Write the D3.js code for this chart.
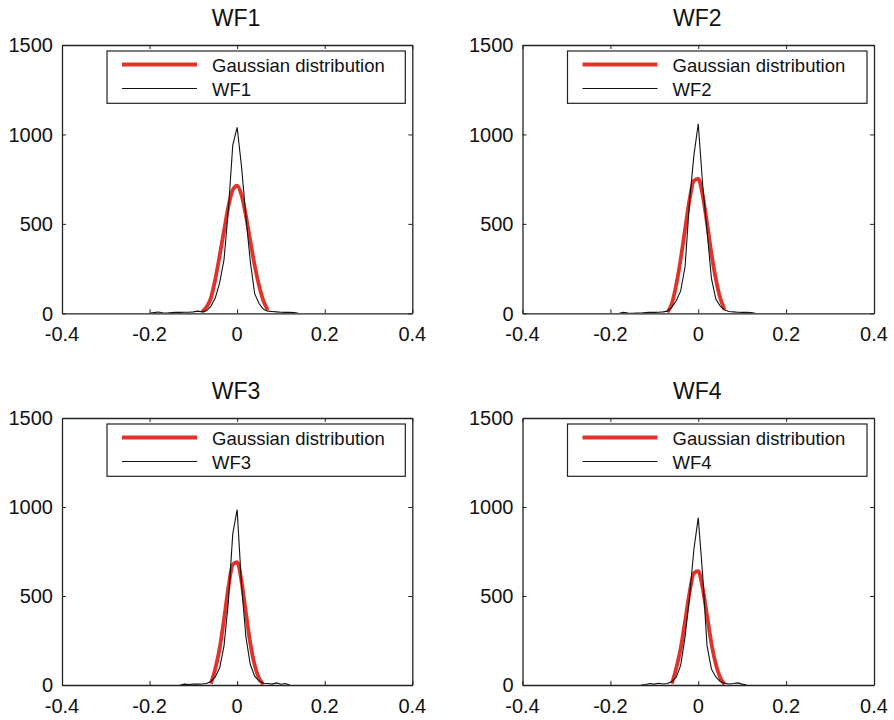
<!DOCTYPE html>
<html><head><meta charset="utf-8">
<script src="https://cdn.jsdelivr.net/npm/d3@7"></script>
<style>body{margin:0;background:#fff}svg{display:block}text{font-family:"Liberation Sans",Arial,Helvetica,sans-serif;fill:#111}</style>
</head><body>
<script>
const panelTitles = ["WF1","WF2","WF3","WF4"];
const xTicks = [-0.4,-0.2,0,0.2,0.4];
const yTicks = [0,500,1000,1500];
const xTickLabels = ["-0.4","-0.2","0","0.2","0.4"];
const legendLabels = ["Gaussian distribution"];

// histogram bin centres (shared)
const binX = [-0.20,-0.19,-0.18,-0.17,-0.16,-0.15,-0.14,-0.13,-0.12,-0.11,-0.10,-0.09,-0.08,-0.07,-0.06,-0.05,-0.04,-0.03,-0.02,-0.01,0,0.01,0.02,0.03,0.04,0.05,0.06,0.07,0.08,0.09,0.10,0.11,0.12,0.13,0.14,0.15];
const wf1Counts = [0,4,7,3,2,4,5,5,6,6,8,12,8,14,40,85,170,300,580,940,1040,820,540,290,110,55,22,12,10,8,6,5,5,4,0,null];
const wf2Counts = [null,null,0,5,2,0,1,2,4,5,5,6,8,12,35,70,125,260,620,880,1060,720,460,195,80,40,18,10,8,6,5,5,4,0,null,null];
const wf3Counts = [null,null,null,null,null,null,null,0,5,3,5,5,6,8,20,45,95,220,470,850,985,560,270,115,50,22,10,8,5,12,4,8,0,null,null,null];
const wf4Counts = [null,null,null,null,null,null,null,0,3,8,5,10,6,8,20,45,110,270,490,760,940,620,220,90,45,20,10,6,8,12,5,0,null,null,null,null];

// fitted Gaussian curves (shared x)
const gaussX = [-0.08,-0.07,-0.06,-0.05,-0.04,-0.03,-0.02,-0.01,0,0.01,0.02,0.03,0.04,0.05,0.06,0.07,0.08];
const wf1Gauss = [8,35,85,190,321,462,597,690,713,660,546,405,268,155,70,18,null];
const wf2Gauss = [null,6,55,160,302,470,633,741,751,661,504,334,192,85,20,null,null];
const wf3Gauss = [null,null,8,90,206,369,549,677,690,582,406,235,112,38,4,null,null];
const wf4Gauss = [null,null,8,95,206,357,517,628,639,545,390,233,117,42,4,null,null];

const countsList = [wf1Counts,wf2Counts,wf3Counts,wf4Counts];
const gaussList = [wf1Gauss,wf2Gauss,wf3Gauss,wf4Gauss];

const W = 894, H = 720;
const svg = d3.select("body").append("svg").attr("width",W).attr("height",H);

const cols = [[62,412.3],[522.5,874]];
const rows = [[45,313.3],[418,685]];
const red = "#e2332a";

panelTitles.forEach((title,i)=>{
  const [x0,x1] = cols[i%2];
  const [y0,y1] = rows[Math.floor(i/2)];
  const x = d3.scaleLinear().domain([-0.4,0.4]).range([x0,x1]);
  const y = d3.scaleLinear().domain([0,1500]).range([y1,y0]);
  const g = svg.append("g");
  const clipId = "clip"+i;
  svg.append("clipPath").attr("id",clipId).append("rect")
    .attr("x",x0).attr("y",y0-4).attr("width",x1-x0).attr("height",y1-y0+4);

  // curves
  const plot = g.append("g").attr("clip-path",`url(#${clipId})`);
  const gaussLine = d3.line().defined(d=>d[1]!=null)
    .x(d=>x(d[0])).y(d=>y(d[1])).curve(d3.curveMonotoneX);
  plot.append("path").datum(gaussX.map((v,k)=>[v,gaussList[i][k]]))
    .attr("d",gaussLine).attr("fill","none").attr("stroke",red)
    .attr("stroke-width",3.8).attr("stroke-linejoin","round").attr("stroke-linecap","butt");
  const histLine = d3.line().defined(d=>d[1]!=null)
    .x(d=>x(d[0])).y(d=>y(d[1]));
  plot.append("path").datum(binX.map((v,k)=>[v,countsList[i][k]]))
    .attr("d",histLine).attr("fill","none").attr("stroke","#111").attr("stroke-width",1.1);

  // axes (inward ticks, on all sides)
  const axB = d3.axisBottom(x).tickValues(xTicks).tickSizeInner(-4).tickSizeOuter(0).tickFormat(()=>"");
  const axT = d3.axisTop(x).tickValues(xTicks).tickSizeInner(-4).tickSizeOuter(0).tickFormat(()=>"");
  const axL = d3.axisLeft(y).tickValues(yTicks).tickSizeInner(-4).tickSizeOuter(0).tickFormat(()=>"");
  const axR = d3.axisRight(y).tickValues(yTicks).tickSizeInner(-4).tickSizeOuter(0).tickFormat(()=>"");
  [[axB,`translate(0,${y1})`],[axT,`translate(0,${y0})`],[axL,`translate(${x0},0)`],[axR,`translate(${x1},0)`]].forEach(([ax,t])=>{
    const a = g.append("g").attr("transform",t).call(ax);
    a.selectAll("path.domain").attr("stroke","#222").attr("stroke-width",1.3);
    a.selectAll(".tick line").attr("stroke","#222").attr("stroke-width",1);
  });

  // tick labels
  g.selectAll(".xl").data(xTicks).enter().append("text")
    .attr("x",d=>x(d)).attr("y",y1+27.5).attr("text-anchor","middle")
    .attr("font-size",20).text((d,k)=>xTickLabels[k]);
  g.selectAll(".yl").data(yTicks).enter().append("text")
    .attr("x",x0-9).attr("y",d=>y(d)).attr("dy","0.36em").attr("text-anchor","end")
    .attr("font-size",20).text(d=>d);

  // title
  g.append("text").attr("x",(x0+x1)/2 - 1).attr("y",y0-19).attr("text-anchor","middle")
    .attr("font-size",23).text(title);

  // legend
  const lx = x0+45, ly = y0+6, lw = (x1-7)-(x0+45), lh = 52.3;
  const lg = g.append("g");
  lg.append("rect").attr("x",lx).attr("y",ly).attr("width",lw).attr("height",lh)
    .attr("fill","#fff").attr("stroke","#222").attr("stroke-width",1.2);
  lg.append("line").attr("x1",lx+15).attr("x2",lx+90).attr("y1",ly+13.5).attr("y2",ly+13.5)
    .attr("stroke",red).attr("stroke-width",3.8);
  lg.append("line").attr("x1",lx+15).attr("x2",lx+90).attr("y1",ly+37.5).attr("y2",ly+37.5)
    .attr("stroke","#111").attr("stroke-width",1);
  lg.append("text").attr("x",lx+105).attr("y",ly+21).attr("font-size",18.5).text(legendLabels[0]);
  lg.append("text").attr("x",lx+105).attr("y",ly+45).attr("font-size",18.5).text(title);
});
</script>
</body></html>
